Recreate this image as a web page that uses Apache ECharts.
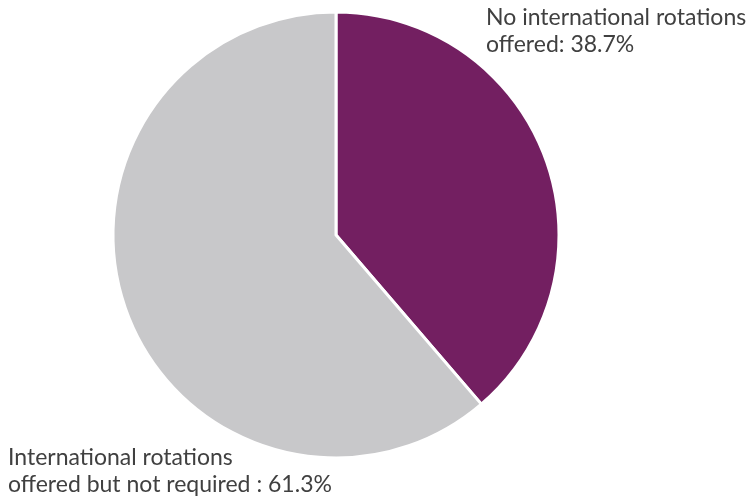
<!DOCTYPE html>
<html><head><meta charset="utf-8">
<script src="https://cdn.jsdelivr.net/npm/echarts@6/dist/echarts.min.js"></script>
<style>html,body{margin:0;padding:0;background:#fff}#c{width:750px;height:501px}</style>
</head><body><div id="c"></div>
<script>
var categories = ['No international rotations\noffered: ', 'International rotations\noffered but not required : '];
var values = [38.7, 61.3];
var colors = ['#731F61', '#C8C8CA'];

var chart = echarts.init(document.getElementById('c'));
var textStyleBase = {fontFamily: 'Lato', fontSize: 23, fill: '#404040', lineHeight: 27};
chart.setOption({
  animation: false,
  series: [{
    type: 'pie',
    center: [336, 235],
    radius: 223,
    startAngle: 90,
    clockwise: true,
    label: {show: false},
    labelLine: {show: false},
    itemStyle: {borderColor: '#fff', borderWidth: 3},
    data: values.map(function (v, i) {
      return {name: categories[i], value: v, itemStyle: {color: colors[i]}};
    })
  }],
  graphic: [
    {type: 'text', left: 486, top: 4, style: Object.assign({text: categories[0] + values[0].toFixed(1) + '%'}, textStyleBase)},
    {type: 'text', left: 8, top: 444, style: Object.assign({text: categories[1] + values[1].toFixed(1) + '%'}, textStyleBase)}
  ]
});
</script></body></html>
